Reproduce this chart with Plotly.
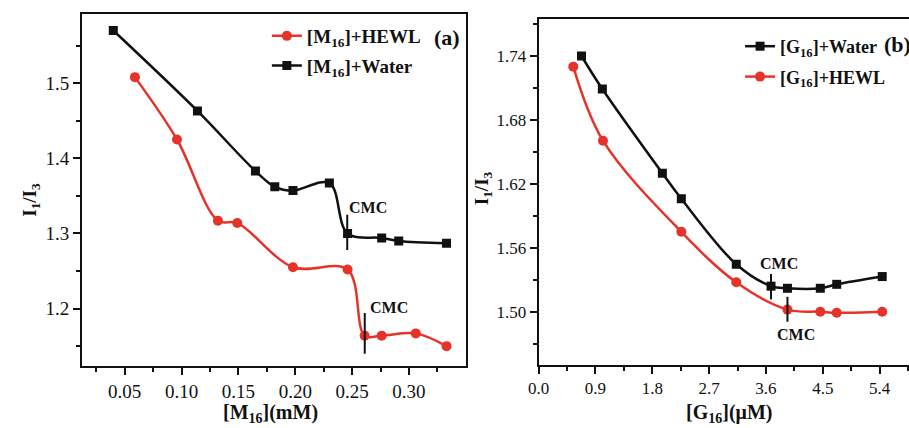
import plotly.graph_objects as go

# ---------------- data ----------------
# Panel (a): [M16] in mM vs I1/I3
m_water_x = [0.040, 0.114, 0.165, 0.182, 0.198, 0.230, 0.246, 0.276, 0.291, 0.333]
m_water_y = [1.570, 1.463, 1.383, 1.362, 1.357, 1.367, 1.300, 1.294, 1.290, 1.287]
m_hewl_x = [0.059, 0.096, 0.132, 0.149, 0.198, 0.246, 0.261, 0.276, 0.306, 0.333]
m_hewl_y = [1.508, 1.425, 1.317, 1.314, 1.255, 1.252, 1.164, 1.164, 1.167, 1.150]

# Panel (b): [G16] in uM vs I1/I3
g_water_x = [0.68, 1.01, 1.96, 2.26, 3.13, 3.68, 3.94, 4.46, 4.72, 5.44]
g_water_y = [1.740, 1.709, 1.630, 1.606, 1.5445, 1.524, 1.522, 1.522, 1.5257, 1.533]
g_hewl_x = [0.55, 1.02, 2.26, 3.13, 3.94, 4.46, 4.72, 5.44]
g_hewl_y = [1.730, 1.6605, 1.575, 1.5276, 1.502, 1.500, 1.499, 1.500]

# CMC markers
cmc_a_x = [0.2457, 0.2611]
cmc_a_ylo = [1.278, 1.140]
cmc_a_yhi = [1.325, 1.194]
cmc_a_lx = [0.264, 0.282]
cmc_a_ly = [1.334, 1.202]

cmc_b_x = [3.68, 3.94]
cmc_b_ylo = [1.5116, 1.4906]
cmc_b_yhi = [1.5354, 1.514]
cmc_b_lx = [3.80, 4.08]
cmc_b_ly = [1.5448, 1.479]

# ticks
a_xticks = [0.05, 0.10, 0.15, 0.20, 0.25, 0.30]
a_xlabels = ["0.05", "0.10", "0.15", "0.20", "0.25", "0.30"]
a_xminor = [0.025, 0.075, 0.125, 0.175, 0.225, 0.275, 0.325]
a_yticks = [1.2, 1.3, 1.4, 1.5]
a_ylabels = ["1.2", "1.3", "1.4", "1.5"]
a_yminor = [1.15, 1.25, 1.35, 1.45, 1.55]
b_xticks = [0.0, 0.9, 1.8, 2.7, 3.6, 4.5, 5.4]
b_xlabels = ["0.0", "0.9", "1.8", "2.7", "3.6", "4.5", "5.4"]
b_xminor = [0.45, 1.35, 2.25, 3.15, 4.05, 4.95, 5.85]
b_yticks = [1.50, 1.56, 1.62, 1.68, 1.74]
b_ylabels = ["1.50", "1.56", "1.62", "1.68", "1.74"]
b_yminor = [1.47, 1.53, 1.59, 1.65, 1.71, 1.77]

RED = "#e5332a"
BLACK = "#111111"
FONT = "Liberation Serif"
W, H = 909, 428

fig = go.Figure()

fig.add_trace(go.Scatter(x=m_hewl_x, y=m_hewl_y, mode="lines+markers",
                         name="[M<sub>16</sub>]+HEWL", legend="legend", legendgroup="a1",
                         line=dict(color=RED, width=2.5, shape="spline", smoothing=1.0),
                         marker=dict(symbol="circle", size=10, color=RED),
                         xaxis="x", yaxis="y"))
fig.add_trace(go.Scatter(x=m_water_x, y=m_water_y, mode="lines+markers",
                         name="[M<sub>16</sub>]+Water", legend="legend", legendgroup="a2",
                         line=dict(color=BLACK, width=2.5, shape="spline", smoothing=1.0),
                         marker=dict(symbol="square", size=9, color=BLACK),
                         xaxis="x", yaxis="y"))

fig.add_trace(go.Scatter(x=g_water_x, y=g_water_y, mode="lines+markers",
                         name="[G<sub>16</sub>]+Water", legend="legend2", legendgroup="b1",
                         line=dict(color=BLACK, width=2.5, shape="spline", smoothing=1.0),
                         marker=dict(symbol="square", size=9, color=BLACK),
                         xaxis="x2", yaxis="y2"))
fig.add_trace(go.Scatter(x=g_hewl_x, y=g_hewl_y, mode="lines+markers",
                         name="[G<sub>16</sub>]+HEWL", legend="legend2", legendgroup="b2",
                         line=dict(color=RED, width=2.5, shape="spline", smoothing=1.0),
                         marker=dict(symbol="circle", size=10, color=RED),
                         xaxis="x2", yaxis="y2"))

shapes = []
annotations = []
for i in range(len(cmc_a_x)):
    shapes.append(dict(type="line", xref="x", yref="y", x0=cmc_a_x[i], x1=cmc_a_x[i],
                       y0=cmc_a_ylo[i], y1=cmc_a_yhi[i], line=dict(color=BLACK, width=2)))
    annotations.append(dict(xref="x", yref="y", x=cmc_a_lx[i], y=cmc_a_ly[i], text="<b>CMC</b>",
                            showarrow=False, font=dict(family=FONT, size=16, color=BLACK)))
for i in range(len(cmc_b_x)):
    shapes.append(dict(type="line", xref="x2", yref="y2", x0=cmc_b_x[i], x1=cmc_b_x[i],
                       y0=cmc_b_ylo[i], y1=cmc_b_yhi[i], line=dict(color=BLACK, width=2)))
    annotations.append(dict(xref="x2", yref="y2", x=cmc_b_lx[i], y=cmc_b_ly[i], text="<b>CMC</b>",
                            showarrow=False, font=dict(family=FONT, size=16, color=BLACK)))

def px(xp):
    return xp / W

def py(yp):
    return 1 - yp / H

annotations.append(dict(xref="paper", yref="paper", x=px(426), y=py(37), xanchor="left",
                        yanchor="middle", text="<b>(a)</b>", showarrow=False,
                        font=dict(family=FONT, size=22, color=BLACK)))
annotations.append(dict(xref="paper", yref="paper", x=px(882), y=py(44), xanchor="left",
                        yanchor="middle", text="<b>(b)</b>", showarrow=False,
                        font=dict(family=FONT, size=22, color=BLACK)))
annotations.append(dict(xref="paper", yref="paper", x=px(263), y=py(413), xanchor="center",
                        yanchor="middle", text="<b>[M<sub>16</sub>](mM)</b>", showarrow=False,
                        font=dict(family=FONT, size=20, color=BLACK)))
annotations.append(dict(xref="paper", yref="paper", x=px(727), y=py(413), xanchor="center",
                        yanchor="middle", text="<b>[G<sub>16</sub>](μM)</b>", showarrow=False,
                        font=dict(family=FONT, size=20, color=BLACK)))
annotations.append(dict(xref="paper", yref="paper", x=px(20), y=py(200), xanchor="center",
                        yanchor="middle", text="<b>I<sub>1</sub>/I<sub>3</sub></b>", showarrow=False,
                        textangle=-90, font=dict(family=FONT, size=19, color=BLACK)))
annotations.append(dict(xref="paper", yref="paper", x=px(478), y=py(188), xanchor="center",
                        yanchor="middle", text="<b>I<sub>1</sub>/I<sub>3</sub></b>", showarrow=False,
                        textangle=-90, font=dict(family=FONT, size=19, color=BLACK)))

def axis_style(tickvals, ticktext, minorvals, rng, domain, anchor, size, mirror=True):
    return dict(range=rng, domain=domain, anchor=anchor,
                tickmode="array", tickvals=tickvals, ticktext=ticktext,
                ticks="outside", ticklen=7, tickwidth=2, tickcolor=BLACK,
                showline=True, linecolor=BLACK, linewidth=2, mirror=mirror,
                showgrid=False, zeroline=False,
                tickfont=dict(family=FONT, size=size, color=BLACK),
                minor=dict(tickmode="array", tickvals=minorvals, ticks="outside",
                           ticklen=4, tickwidth=2, tickcolor=BLACK, showgrid=False))

layout = dict(
    width=W, height=H,
    margin=dict(l=0, r=0, t=0, b=0),
    paper_bgcolor="white", plot_bgcolor="white",
    xaxis=axis_style(a_xticks, a_xlabels, a_xminor, [0.0126, 0.3505], [px(72), px(461)], "y", 19),
    yaxis=axis_style(a_yticks, a_ylabels, a_yminor, [1.1236, 1.592], [py(366), py(14)], "x", 19),
    xaxis2=axis_style(b_xticks, b_xlabels, b_xminor, [0.0, 5.864], [px(534), 1.0], "y2", 17),
    yaxis2=axis_style(b_yticks, b_ylabels, b_yminor, [1.45, 1.7747], [py(365), py(19)], "x2", 17,
                      mirror=False),
    legend=dict(x=px(259), y=py(17), xanchor="left", yanchor="top",
                bgcolor="rgba(0,0,0,0)", itemwidth=30, tracegroupgap=2,
                traceorder="grouped",
                font=dict(family=FONT, size=19, color=BLACK, weight="bold")),
    legend2=dict(x=px(738), y=py(28), xanchor="left", yanchor="top",
                 bgcolor="rgba(0,0,0,0)", itemwidth=30, tracegroupgap=4,
                 traceorder="grouped",
                 font=dict(family=FONT, size=18, color=BLACK, weight="bold")),
    shapes=shapes,
    annotations=annotations,
    showlegend=True,
)
fig.update_layout(**layout)

fig.write_html("out.html")
